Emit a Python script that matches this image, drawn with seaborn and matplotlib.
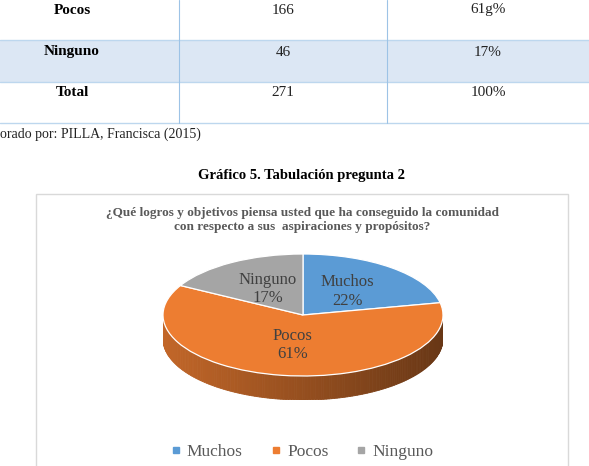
import numpy as np
import matplotlib
matplotlib.use("Agg")
import matplotlib.pyplot as plt
import seaborn as sns
from matplotlib.patches import Rectangle, Polygon
from matplotlib.lines import Line2D
from matplotlib.colors import to_rgb

# ---------------- data ----------------
table_rows = ["Pocos", "Ninguno", "Total"]
table_counts = ["166", "46", "271"]
table_pcts = ["61g%", "17%", "100%"]

categories = ["Muchos", "Pocos", "Ninguno"]
counts = [59, 166, 46]
palette = sns.color_palette(["#5B9BD5", "#ED7D31", "#A5A5A5"])

source_note = "orado por: PILLA, Francisca (2015)"
figure_caption = "Gráfico 5. Tabulación pregunta 2"
chart_title = ("¿Qué logros y objetivos piensa usted que ha conseguido la comunidad\n"
               "con respecto a sus  aspiraciones y propósitos?")

# ---------------- style ----------------
sns.set_theme(style="white")
plt.rcParams["font.family"] = ["Liberation Serif", "DejaVu Serif"]

W, H = 589, 466
fig = plt.figure(figsize=(W / 100, H / 100), dpi=100)
bg = fig.add_axes([0, 0, 1, 1])
bg.set_xlim(0, W)
bg.set_ylim(H, 0)
bg.axis("off")

# ---------------- table ----------------
line_col = "#BDD7EE"
bg.add_patch(Rectangle((0, 40), W, 42, facecolor="#DCE7F4", edgecolor="none"))
for yy in (40, 82, 123):
    bg.plot([0, W], [yy, yy], color=line_col, lw=1.0)
for xx in (179, 387):
    bg.plot([xx, xx], [0, 123], color="#9DC3E6", lw=0.8)
row_text_y = [10, 52, 93]
for name, cnt, pct, yy in zip(table_rows, table_counts, table_pcts, row_text_y):
    bg.text(72, yy, name, ha="center", va="center", fontsize=11, fontweight="bold", color="black")
    bg.text(283, yy, cnt, ha="center", va="center", fontsize=11, color="#222222")
    bg.text(488, yy, pct, ha="center", va="center", fontsize=11, color="#222222")

bg.text(0, 134, source_note, ha="left", va="center", fontsize=10, color="#222222")
bg.text(302, 176, figure_caption, ha="center", va="center", fontsize=10.5,
        fontweight="bold", color="black")

# ---------------- chart box ----------------
bg.add_patch(Rectangle((36, 194), 532, 290, facecolor="white", edgecolor="#D9D9D9", lw=1.0))
bg.text(302, 220, chart_title, ha="center", va="center", fontsize=9.5,
        fontweight="bold", color="#595959", linespacing=1.15)

# ---------------- 3D-like pie ----------------
cx0, cx1 = 163, 443
ty0, ty1 = 254, 376
depth = 24
ax = fig.add_axes([cx0 / W, 1 - (ty1 + depth) / H, (cx1 - cx0) / W, (ty1 - ty0 + depth) / H])
total = sum(counts)
labels = [f"{c}\n{round(v / total * 100)}%" for c, v in zip(categories, counts)]
wedges, texts = ax.pie(
    counts, colors=palette, startangle=90, counterclock=False,
    labels=labels, labeldistance=0.5,
    wedgeprops=dict(edgecolor="white", linewidth=0.9, zorder=3),
    textprops=dict(ha="center", va="center", fontsize=12, color="#404040"),
)
for t in texts:
    t.set_zorder(5)
ax.set_aspect("auto")
d = depth / ((ty1 - ty0) / 2)
ax.set_xlim(-1, 1)
ax.set_ylim(-1 - d, 1)
ax.axis("off")

# side walls (front half only)
for w, col in zip(wedges, palette):
    t1, t2 = w.theta1, w.theta2
    angs = np.linspace(t1, t2, 200)
    base = np.array(to_rgb(col))
    for a, b in zip(angs[:-1], angs[1:]):
        ra, rb = np.radians(a), np.radians(b)
        if np.sin(ra) > 0.001 or np.sin(rb) > 0.001:
            continue
        xm = (np.cos(ra) + np.cos(rb)) / 2
        shade = 0.82 - 0.38 * (xm + 1) / 2
        c = np.clip(base * shade, 0, 1)
        poly = Polygon([(np.cos(ra), np.sin(ra)), (np.cos(rb), np.sin(rb)),
                        (np.cos(rb), np.sin(rb) - d), (np.cos(ra), np.sin(ra) - d)],
                       closed=True, facecolor=c, edgecolor=c, lw=0.6, zorder=1)
        ax.add_patch(poly)

# ---------------- legend ----------------
handles = [Line2D([], [], marker="s", linestyle="", markersize=5, color=c) for c in palette]
fig.legend(handles, categories, loc="center", bbox_to_anchor=(302 / W, 1 - 452 / H),
           ncol=3, frameon=False, fontsize=12.5, labelcolor="#595959",
           handlelength=0.6, handletextpad=0.35, columnspacing=1.6)

fig.savefig("out.png", dpi=100)
